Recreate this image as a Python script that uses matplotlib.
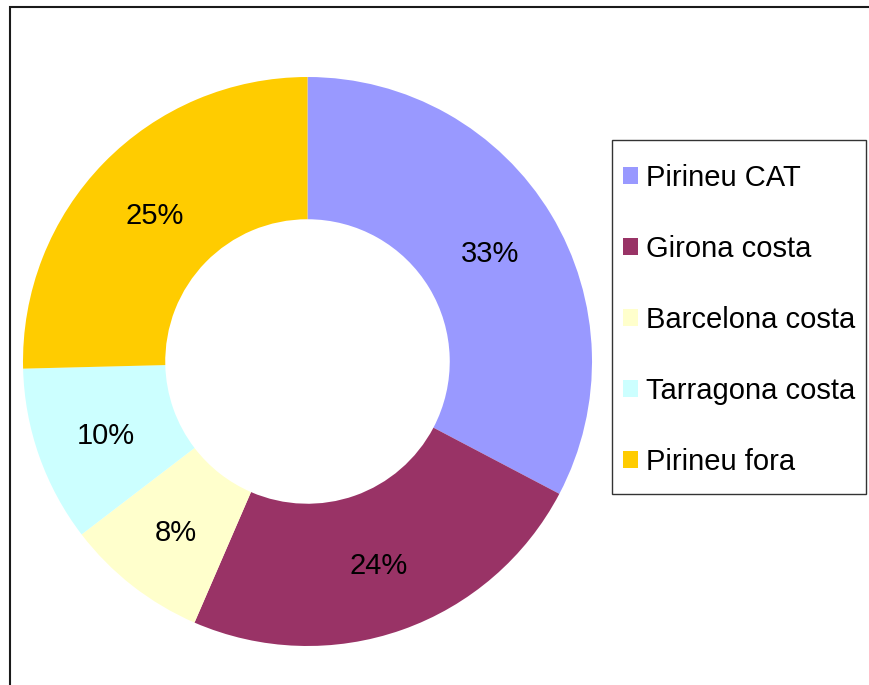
import matplotlib
matplotlib.use("Agg")
import matplotlib.pyplot as plt
from matplotlib.patches import Rectangle

plt.rcParams['font.family'] = ['Liberation Sans', 'DejaVu Sans']

categories = ["Pirineu CAT", "Girona costa", "Barcelona costa", "Tarragona costa", "Pirineu fora"]
values = [32.7, 23.8, 8.1, 10.0, 25.4]
colors = ["#9999FF", "#993366", "#FFFFCC", "#CCFFFF", "#FFCC00"]

W, H = 870, 685
fig = plt.figure(figsize=(W / 100, H / 100), dpi=100)

# outer frame (only top and left edges are visible)
fig.add_artist(Rectangle((10 / W, -0.1), 1.2, (H - 7) / H + 0.1, transform=fig.transFigure,
                         fill=False, edgecolor="#1a1a1a", linewidth=1.5))

cx, cy, r = 307.5, 361.5, 284.5
ax = fig.add_axes([(cx - r) / W, (H - cy - r) / H, 2 * r / W, 2 * r / H])
wedges, texts, autotexts = ax.pie(
    values, colors=colors, startangle=90, counterclock=False, radius=1.0,
    wedgeprops=dict(width=0.5, linewidth=0),
    autopct=lambda p: f"{p:.0f}%", pctdistance=0.75,
    textprops=dict(fontsize=21, color="black"))
for t in autotexts:
    t.set_va("center_baseline")
ax.set_xlim(-1, 1)
ax.set_ylim(-1, 1)
ax.set_aspect("equal")
ax.axis("off")

# legend box
fig.add_artist(Rectangle((612 / W, (H - 494) / H), (866 - 612) / W, (494 - 140) / H,
                         transform=fig.transFigure, fill=False,
                         edgecolor="#333333", linewidth=1.0))
leg = fig.legend(wedges, categories, loc="upper left",
                 bbox_to_anchor=(623 / W, (H - 164) / H),
                 fontsize=21, frameon=False,
                 handlelength=0.51, handleheight=0.51,
                 handletextpad=0.27, labelspacing=1.475, borderpad=0,
                 borderaxespad=0)

fig.savefig("out.png", dpi=100, facecolor="white")
